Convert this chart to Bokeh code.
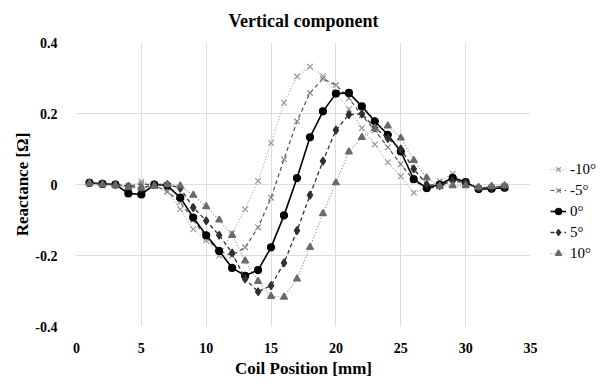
from bokeh.plotting import figure
from bokeh.models import Legend, LegendItem, FixedTicker, Range1d
from bokeh.embed import file_html
from bokeh.resources import INLINE

positions = list(range(1, 34))

series_labels = ["-10°", "-5°", "0°", "5°", "10°"]

neg10 = [0.0, -0.003, -0.003, -0.005, 0.008, -0.002, -0.02, -0.07, -0.126, -0.158,
         -0.2, -0.137, -0.07, 0.01, 0.117, 0.23, 0.304, 0.332, 0.305, 0.258,
         0.212, 0.159, 0.113, 0.063, 0.023, -0.023, -0.01, 0.01, 0.03, 0.005,
         -0.01, -0.008, -0.005]
neg5 = [0.005, 0.0, 0.0, -0.005, 0.002, -0.002, -0.02, -0.05, -0.1, -0.15,
        -0.188, -0.2, -0.177, -0.121, -0.037, 0.071, 0.178, 0.258, 0.298, 0.28,
        0.243, 0.195, 0.153, 0.105, 0.057, 0.012, -0.012, -0.005, 0.015, 0.003,
        -0.01, -0.008, -0.005]
zero = [0.005, 0.002, 0.0, -0.025, -0.028, 0.0, -0.003, -0.037, -0.093, -0.143,
        -0.187, -0.235, -0.257, -0.241, -0.177, -0.087, 0.018, 0.133, 0.206, 0.256,
        0.258, 0.22, 0.178, 0.14, 0.093, 0.015, -0.01, 0.0, 0.019, 0.007,
        -0.013, -0.012, -0.009]
pos5 = [0.005, 0.002, 0.0, -0.005, -0.01, 0.0, 0.0, -0.01, -0.065, -0.102,
        -0.143, -0.193, -0.266, -0.302, -0.285, -0.221, -0.13, -0.03, 0.066, 0.153,
        0.197, 0.199, 0.16, 0.13, 0.1, 0.044, 0.0, -0.003, 0.01, 0.005,
        -0.01, -0.008, -0.005]
pos10 = [0.003, 0.0, -0.002, -0.008, -0.01, -0.005, 0.0, -0.004, -0.03, -0.062,
         -0.1, -0.143, -0.215, -0.273, -0.315, -0.317, -0.266, -0.177, -0.082, 0.005,
         0.092, 0.133, 0.158, 0.165, 0.131, 0.068, 0.019, -0.005, -0.003, -0.003,
         -0.008, -0.005, -0.003]

x_ticks = [0, 5, 10, 15, 20, 25, 30, 35]
y_ticks = [-0.4, -0.2, 0, 0.2, 0.4]
y_tick_labels = ["-0.4", "-0.2", "0", "0.2", "0.4"]

SERIF = "Liberation Serif"

p = figure(frame_width=454, frame_height=284, output_backend="svg", toolbar_location=None,
           x_range=Range1d(0, 35), y_range=Range1d(-0.4, 0.4),
           min_border_left=76, min_border_right=0, min_border_top=42, min_border_bottom=43)

p.title.text = "Vertical component"
p.title.align = "center"
p.title.vertical_align = "top"
p.title.text_font = SERIF
p.title.text_font_size = "18px"
p.title.text_font_style = "bold"
p.title.text_color = "black"
p.title.standoff = 20

p.outline_line_color = None
p.background_fill_color = "white"
p.border_fill_color = "white"

p.xaxis.ticker = FixedTicker(ticks=x_ticks)
p.yaxis.ticker = FixedTicker(ticks=y_ticks)
p.yaxis.major_label_overrides = {t: l for t, l in zip(y_ticks, y_tick_labels)}

for ax in (p.xaxis, p.yaxis):
    ax.axis_line_color = None
    ax.major_tick_line_color = None
    ax.minor_tick_line_color = None
    ax.major_label_text_font = SERIF
    ax.major_label_text_font_style = "bold"
    ax.major_label_text_font_size = "14px"
    ax.major_label_text_color = "black"
    ax.axis_label_text_font = SERIF
    ax.axis_label_text_font_style = "bold"
    ax.axis_label_text_font_size = "17px"
    ax.axis_label_text_color = "black"

p.xaxis.axis_label = "Coil Position [mm]"
p.yaxis.axis_label = "Reactance [Ω]"
p.xaxis.major_label_standoff = 10
p.yaxis.major_label_standoff = 13
p.xaxis.axis_label_standoff = 3
p.yaxis.axis_label_standoff = 0

p.grid.grid_line_color = "#dcdcdc"
p.grid.grid_line_width = 1

styles = [
    dict(data=neg10, line_color="#a6a6a6", line_dash="1 2", line_width=1.2,
         marker="x", m_color="#9a9a9a", m_fill="#9a9a9a", size=8),
    dict(data=neg5, line_color="#505050", line_dash="4 3", line_width=1.2,
         marker="x", m_color="#8c8c8c", m_fill="#8c8c8c", size=8),
    dict(data=zero, line_color="#000000", line_dash="solid", line_width=1.6,
         marker="circle", m_color="#000000", m_fill="#000000", size=7),
    dict(data=pos5, line_color="#303030", line_dash="4 3", line_width=1.3,
         marker="diamond", m_color="#303030", m_fill="#303030", size=8),
    dict(data=pos10, line_color="#8c8c8c", line_dash="1 2", line_width=1.2,
         marker="triangle", m_color="#6a6a6a", m_fill="#6a6a6a", size=7),
]

items = []
for label, st in zip(series_labels, styles):
    l = p.line(positions, st["data"], line_color=st["line_color"],
               line_dash=st["line_dash"], line_width=st["line_width"])
    s = p.scatter(positions, st["data"], marker=st["marker"], size=st["size"],
                  line_color=st["m_color"], fill_color=st["m_fill"], line_width=1.2)
    items.append(LegendItem(label=label, renderers=[l, s]))

legend = Legend(items=items, location=(20, 64))
legend.label_text_font = SERIF
legend.label_text_font_size = "15px"
legend.label_text_color = "black"
legend.glyph_width = 16
legend.glyph_height = 18
legend.label_height = 18
legend.label_standoff = 4
legend.spacing = 3
legend.padding = 0
legend.margin = 0
legend.border_line_color = None
legend.background_fill_alpha = 0
p.add_layout(legend, "right")

open("out.html", "w").write(file_html(p, INLINE))
